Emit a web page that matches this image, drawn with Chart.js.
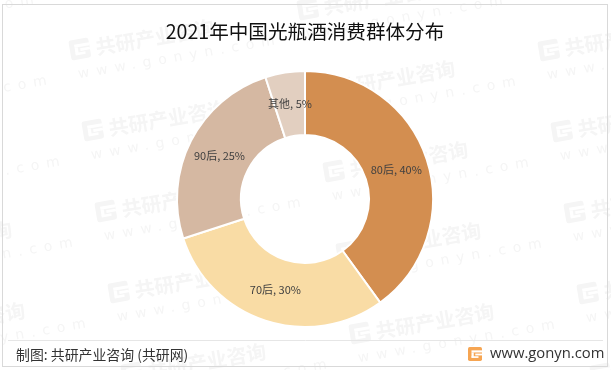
<!DOCTYPE html>
<html>
<head>
<meta charset="utf-8">
<script src="https://cdn.jsdelivr.net/npm/chart.js@4"></script>
<style>
html, body { margin: 0; padding: 0; background: #fff; overflow: hidden; }
#wrap { width: 611px; height: 370px; position: relative; }
</style>
</head>
<body>
<div id="wrap"><canvas id="chart" width="611" height="370"></canvas></div>
<script>
const categories = ['80后', '70后', '90后', '其他'];
const shares = [40, 30, 25, 5];
const colors = ['#D38E50', '#F9DCA5', '#D5B8A2', '#E2CFC0'];
const titleText = '2021年中国光瓶酒消费群体分布';
const sourceText = '制图: 共研产业咨询 (共研网)';
const siteText = 'www.gonyn.com';
const cjk = '"Noto Sans CJK SC", "Noto Sans", sans-serif';

function drawLogo(ctx, x, y, s, color) {
    // the little G mark of the site
    ctx.save();
    ctx.translate(x, y);
    ctx.fillStyle = color;
    ctx.beginPath();
    ctx.roundRect(0, 0, s, s, s * 0.12);
    ctx.fill();
    ctx.fillStyle = '#fff';
    ctx.fillRect(s * 0.25, s * 0.24, s * 0.75, s * 0.15);
    ctx.fillRect(s * 0.25, s * 0.39, s * 0.16, s * 0.36);
    ctx.fillRect(s * 0.25, s * 0.66, s * 0.5, s * 0.12);
    ctx.fillRect(s * 0.52, s * 0.47, s * 0.48, s * 0.13);
    ctx.restore();
}

const background = {
    id: 'background',
    beforeDraw(chart) {
        const ctx = chart.ctx;
        ctx.save();
        ctx.fillStyle = '#fff';
        ctx.fillRect(0, 0, 611, 370);
        // watermark grid
        for (let i = -2; i < 5; i++) {
            for (let j = -1; j < 6; j++) {
                const x = 80 + i * 228 + j * 13;
                const y = 50 - i * 40 + j * 81;
                ctx.save();
                ctx.translate(x, y);
                ctx.rotate(-0.17);
                drawLogo(ctx, -10, -11, 20, '#f5f5f5');
                ctx.fillStyle = '#f5f5f5';
                ctx.font = 'bold 20px ' + cjk;
                ctx.textAlign = 'left';
                ctx.textBaseline = 'middle';
                ctx.fillText('共研产业咨询', 16, 0);
                ctx.font = '14px "DejaVu Sans"';
                ctx.letterSpacing = '7px';
                ctx.fillText('www.gonyn.com', -6, 24);
                ctx.restore();
            }
        }
        ctx.restore();
    },
    afterDraw(chart) {
        const ctx = chart.ctx;
        ctx.save();
        // outer frame and footer
        ctx.strokeStyle = '#d9d9d9';
        ctx.lineWidth = 1;
        ctx.strokeRect(2.5, 4.5, 605, 362);
        ctx.strokeStyle = '#e6e6e6';
        ctx.beginPath();
        ctx.moveTo(8, 340.5);
        ctx.lineTo(603, 340.5);
        ctx.stroke();
        ctx.textBaseline = 'middle';
        ctx.fillStyle = '#333';
        ctx.font = '13.9px ' + cjk;
        ctx.fillText(sourceText, 16, 355);
        ctx.font = '14.8px "Open Sans"';
        ctx.fillText(siteText, 490, 354);
        const g = ctx.createLinearGradient(0, 347, 0, 362);
        g.addColorStop(0, '#F6A552');
        g.addColorStop(1, '#F28A4A');
        drawLogo(ctx, 468, 347, 14, g);
        // slice labels
        ctx.fillStyle = '#404040';
        ctx.font = '11px ' + cjk;
        ctx.textAlign = 'center';
        chart.getDatasetMeta(0).data.forEach((arc, i) => {
            const p = arc.getCenterPoint();
            ctx.fillText(categories[i] + ', ' + shares[i] + '%', p.x, p.y);
        });
        ctx.restore();
    }
};

new Chart(document.getElementById('chart'), {
    type: 'doughnut',
    data: {
        labels: categories,
        datasets: [{
            data: shares,
            backgroundColor: colors,
            borderColor: '#fff',
            borderWidth: 2
        }]
    },
    options: {
        responsive: false,
        animation: false,
        cutout: '50%',
        layout: { padding: { left: 176, right: 177, top: 70, bottom: 42 } },
        plugins: {
            legend: { display: false },
            tooltip: { enabled: false },
            title: {
                display: false
            }
        }
    },
    plugins: [background, {
        id: 'titleText',
        afterDraw(chart) {
            const ctx = chart.ctx;
            ctx.save();
            ctx.fillStyle = '#111';
            ctx.font = '19.6px ' + cjk;
            ctx.textAlign = 'center';
            ctx.textBaseline = 'middle';
            ctx.fillText(titleText, 305, 32);
            ctx.restore();
        }
    }]
});
</script>
</body>
</html>
